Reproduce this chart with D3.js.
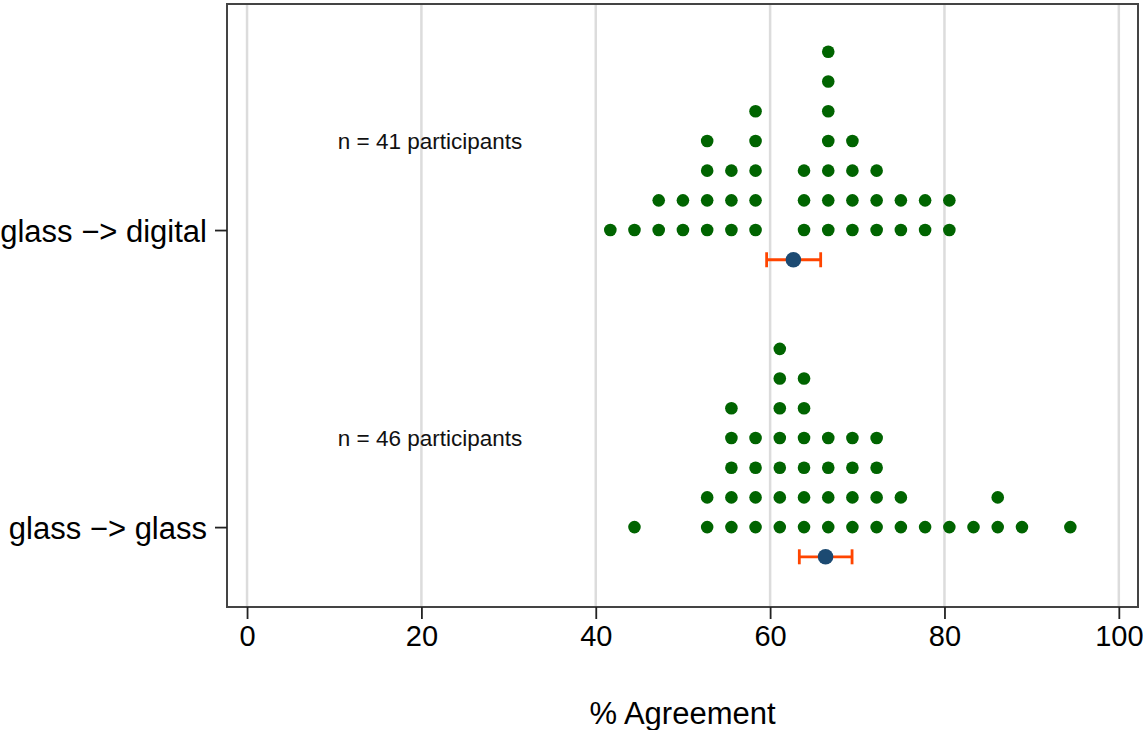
<!DOCTYPE html>
<html>
<head>
<meta charset="utf-8">
<script src="https://cdn.jsdelivr.net/npm/d3@7"></script>
<style>
  body { margin: 0; background: #fff; }
  text { font-family: "Liberation Sans", Arial, sans-serif; }
</style>
</head>
<body>
<div id="chart"></div>
<script>
// conditions, bottom to top on the y axis
var conditions = ["glass −> glass", "glass −> digital"];
var nLabels = ["n = 46 participants", "n = 41 participants"];

// % agreement per participant (multiples of 1/36)
var glassGlass = [
  44.44,
  52.78, 52.78,
  55.56, 55.56, 55.56, 55.56, 55.56,
  58.33, 58.33, 58.33, 58.33,
  61.11, 61.11, 61.11, 61.11, 61.11, 61.11, 61.11,
  63.89, 63.89, 63.89, 63.89, 63.89, 63.89,
  66.67, 66.67, 66.67, 66.67,
  69.44, 69.44, 69.44, 69.44,
  72.22, 72.22, 72.22, 72.22,
  75.00, 75.00,
  77.78,
  80.56,
  83.33,
  86.11, 86.11,
  88.89,
  94.44
];
var glassDigital = [
  41.67,
  44.44,
  47.22, 47.22,
  50.00, 50.00,
  52.78, 52.78, 52.78, 52.78,
  55.56, 55.56, 55.56,
  58.33, 58.33, 58.33, 58.33, 58.33,
  63.89, 63.89, 63.89,
  66.67, 66.67, 66.67, 66.67, 66.67, 66.67, 66.67,
  69.44, 69.44, 69.44, 69.44,
  72.22, 72.22, 72.22,
  75.00, 75.00,
  77.78, 77.78,
  80.56, 80.56
];

// means with 95% CI
var means = [66.36, 62.67];
var ciLow = [63.35, 59.6];
var ciHigh = [69.4, 65.8];

var xTicks = [0, 20, 40, 60, 80, 100];

//set height, width, and margins
var svgWidth = 1143;
var svgHeight = 730;

var margin = {
  top: 4,
  right: 5,
  bottom: 123,
  left: 227
};

var width = svgWidth - margin.left - margin.right;
var height = svgHeight - margin.top - margin.bottom;

var svg = d3.select("#chart")
  .append("svg")
  .attr("width", svgWidth)
  .attr("height", svgHeight);

var chartGroup = svg.append("g")
  .attr("transform", `translate(${margin.left}, ${margin.top})`);

// scales: condition i sits at y = i + 1, each stacked dot adds 0.1
var xLinearScale = d3.scaleLinear()
  .domain([-2.3, 102.2])
  .range([0, width]);

var yLinearScale = d3.scaleLinear()
  .domain([0.731, 2.761])
  .range([height, 0]);

var dotStep = 0.1;

// vertical grid lines
chartGroup.append("g")
  .selectAll("line")
  .data(xTicks)
  .enter()
  .append("line")
  .attr("x1", d => xLinearScale(d))
  .attr("x2", d => xLinearScale(d))
  .attr("y1", 0)
  .attr("y2", height)
  .attr("stroke", "#dcdcdc")
  .attr("stroke-width", 2.5);

// stack the dots per value
function stackDots(values, catIndex) {
  var counts = {};
  return values.map(function(v) {
    var k = v.toFixed(2);
    counts[k] = (counts[k] || 0) + 1;
    return { value: v, cat: catIndex + 1, level: counts[k] - 1 };
  });
}

var dots = stackDots(glassGlass, 0).concat(stackDots(glassDigital, 1));

chartGroup.selectAll("circle.dot")
  .data(dots)
  .enter()
  .append("circle")
  .attr("class", "dot")
  .attr("cx", d => xLinearScale(d.value))
  .attr("cy", d => yLinearScale(d.cat + d.level * dotStep))
  .attr("r", 6.3)
  .attr("fill", "#006400");

// error bars and means, one step below the dot rows
var summary = means.map(function(m, i) {
  return { mean: m, lo: ciLow[i], hi: ciHigh[i], y: i + 1 - dotStep };
});

var errGroup = chartGroup.append("g");

errGroup.selectAll("line.ci")
  .data(summary)
  .enter()
  .append("line")
  .attr("x1", d => xLinearScale(d.lo))
  .attr("x2", d => xLinearScale(d.hi))
  .attr("y1", d => yLinearScale(d.y))
  .attr("y2", d => yLinearScale(d.y))
  .attr("stroke", "#ff4500")
  .attr("stroke-width", 2.8);

["lo", "hi"].forEach(function(end) {
  errGroup.selectAll("line.cap-" + end)
    .data(summary)
    .enter()
    .append("line")
    .attr("x1", d => xLinearScale(d[end]))
    .attr("x2", d => xLinearScale(d[end]))
    .attr("y1", d => yLinearScale(d.y) - 7.5)
    .attr("y2", d => yLinearScale(d.y) + 7.5)
    .attr("stroke", "#ff4500")
    .attr("stroke-width", 2.8);
});

errGroup.selectAll("circle")
  .data(summary)
  .enter()
  .append("circle")
  .attr("cx", d => xLinearScale(d.mean))
  .attr("cy", d => yLinearScale(d.y))
  .attr("r", 7.8)
  .attr("fill", "#1c4a72");

// participant counts
chartGroup.selectAll("text.nlabel")
  .data(nLabels)
  .enter()
  .append("text")
  .attr("class", "nlabel")
  .attr("x", xLinearScale(21))
  .attr("y", (d, i) => yLinearScale(i + 1.273))
  .attr("text-anchor", "middle")
  .attr("font-size", "22.5px")
  .attr("fill", "#111")
  .text(d => d);

// frame
chartGroup.append("rect")
  .attr("x", 0)
  .attr("y", 0)
  .attr("width", width)
  .attr("height", height)
  .attr("fill", "none")
  .attr("stroke", "#444")
  .attr("stroke-width", 2);

// x axis
var bottomAxis = d3.axisBottom(xLinearScale)
  .tickValues(xTicks)
  .tickSize(12)
  .tickFormat(d3.format("d"));

var xAxis = chartGroup.append("g")
  .attr("transform", `translate(0, ${height})`)
  .call(bottomAxis);

xAxis.select(".domain").remove();
xAxis.selectAll("line").attr("stroke", "#222").attr("stroke-width", 1.8);
xAxis.selectAll("text")
  .attr("y", 39)
  .attr("dy", 0)
  .attr("font-size", "29px")
  .attr("font-family", "Liberation Sans, Arial, sans-serif")
  .attr("fill", "#000");

// y axis with condition names
var leftAxis = d3.axisLeft(yLinearScale)
  .tickValues([1, 2])
  .tickSize(12)
  .tickPadding(8)
  .tickFormat(d => conditions[d - 1]);

var yAxis = chartGroup.append("g")
  .call(leftAxis);

yAxis.select(".domain").remove();
yAxis.selectAll("line").attr("stroke", "#222").attr("stroke-width", 1.8);
yAxis.selectAll("text")
  .attr("dy", "0.36em")
  .attr("font-size", "31px")
  .attr("font-family", "Liberation Sans, Arial, sans-serif")
  .attr("fill", "#000");

// axis title
chartGroup.append("text")
  .attr("x", width / 2)
  .attr("y", height + 117)
  .attr("text-anchor", "middle")
  .attr("font-size", "31px")
  .attr("fill", "#000")
  .text("% Agreement");
</script>
</body>
</html>
